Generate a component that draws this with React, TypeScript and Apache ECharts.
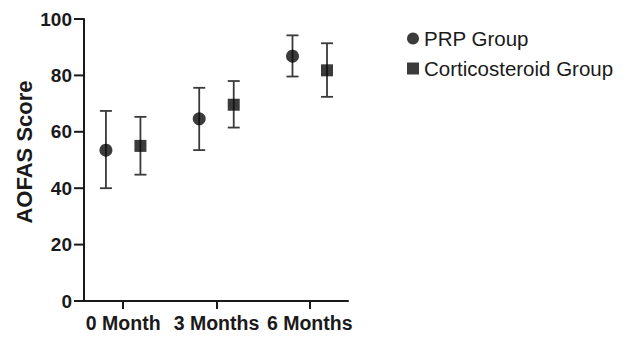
import React, { useEffect, useRef } from "react";
import * as echarts from "echarts";

const categories = ["0 Month", "3 Months", "6 Months"];
const prpMean = [53.5, 64.6, 86.8];
const prpLow = [40.0, 53.5, 79.6];
const prpHigh = [67.4, 75.6, 94.2];
const corMean = [55.0, 69.6, 81.8];
const corLow = [44.8, 61.5, 72.4];
const corHigh = [65.3, 78.0, 91.4];
const yTicks = [0, 20, 40, 60, 80, 100];

const OFFSET = 0.185;
const X_MIN = -0.42;
const X_MAX = 2.41;

export default function App() {
  const ref = useRef<HTMLDivElement>(null);
  useEffect(() => {
    if (!ref.current) return;
    const chart = echarts.init(ref.current, null, { renderer: "svg" });
    const font = "'Liberation Sans', Arial, Helvetica, sans-serif";
    const idx = categories.map((_, i) => i);

    const errRender = (params: any, api: any) => {
      const x = api.value(0);
      const lo = api.coord([x, api.value(1)]);
      const hi = api.coord([x, api.value(2)]);
      const half = 6;
      const style = { stroke: "#3a3a3a", lineWidth: 1.8 };
      return {
        type: "group",
        children: [
          { type: "line", shape: { x1: lo[0], y1: lo[1], x2: hi[0], y2: hi[1] }, style },
          { type: "line", shape: { x1: lo[0] - half, y1: lo[1], x2: lo[0] + half, y2: lo[1] }, style },
          { type: "line", shape: { x1: hi[0] - half, y1: hi[1], x2: hi[0] + half, y2: hi[1] }, style },
        ],
      };
    };

    const yTickRender = (params: any, api: any) => {
      const p = api.coord([api.value(0), api.value(1)]);
      return {
        type: "line",
        shape: { x1: p[0] - 10, y1: p[1], x2: p[0], y2: p[1] },
        style: { stroke: "#1a1a1a", lineWidth: 2 },
      };
    };

    chart.setOption({
      animation: false,
      grid: { left: 84, top: 19, right: 282, bottom: 39 },
      legend: {
        orient: "vertical",
        left: 402,
        top: 23,
        itemWidth: 12,
        itemHeight: 12,
        itemGap: 9,
        data: [
          { name: "PRP Group", icon: "circle" },
          { name: "Corticosteroid Group", icon: "rect" },
        ],
        textStyle: { fontFamily: font, fontSize: 20.5, color: "#1a1a1a" },
      },
      xAxis: {
        type: "value",
        min: X_MIN,
        max: X_MAX,
        splitLine: { show: false },
        axisLine: { show: true, onZero: false, lineStyle: { color: "#1a1a1a", width: 2 } },
        axisTick: {
          show: true,
          length: 8,
          customValues: idx,
          lineStyle: { color: "#1a1a1a", width: 2 },
        },
        axisLabel: {
          customValues: idx,
          formatter: (v: number) => categories[Math.round(v)] ?? "",
          fontFamily: font,
          fontWeight: "bold",
          fontSize: 19.5,
          color: "#1a1a1a",
          margin: 12,
        },
      },
      yAxis: {
        type: "value",
        min: 0,
        max: 100,
        interval: 20,
        name: "AOFAS Score",
        nameLocation: "middle",
        nameGap: 49,
        nameTextStyle: {
          fontFamily: font,
          fontWeight: "bold",
          fontSize: 22,
          color: "#1a1a1a",
          padding: [0, 0, 0, 16],
        },
        splitLine: { show: false },
        axisLine: { show: true, onZero: false, lineStyle: { color: "#1a1a1a", width: 2 } },
        axisTick: { show: false },
        axisLabel: {
          fontFamily: font,
          fontWeight: "bold",
          fontSize: 19,
          color: "#1a1a1a",
          margin: 12,
          customValues: yTicks,
        },
      },
      series: [
        {
          name: "y ticks",
          type: "custom",
          renderItem: yTickRender,
          clip: false,
          silent: true,
          z: 5,
          data: yTicks.map((v) => [X_MIN, v]),
          encode: { x: 0, y: 1 },
        },
        {
          name: "PRP err",
          type: "custom",
          renderItem: errRender,
          z: 1,
          data: idx.map((i) => [i - OFFSET, prpLow[i], prpHigh[i]]),
          encode: { x: 0, y: [1, 2] },
        },
        {
          name: "Cor err",
          type: "custom",
          renderItem: errRender,
          z: 1,
          data: idx.map((i) => [i + OFFSET, corLow[i], corHigh[i]]),
          encode: { x: 0, y: [1, 2] },
        },
        {
          name: "PRP Group",
          type: "scatter",
          symbol: "circle",
          symbolSize: 13,
          z: 3,
          itemStyle: { color: "#0a0a0a" },
          data: idx.map((i) => [i - OFFSET, prpMean[i]]),
        },
        {
          name: "Corticosteroid Group",
          type: "scatter",
          symbol: "rect",
          symbolSize: 12,
          z: 3,
          itemStyle: { color: "#0a0a0a" },
          data: idx.map((i) => [i + OFFSET, corMean[i]]),
        },
      ],
    });
    return () => chart.dispose();
  }, []);
  return <div ref={ref} style={{ width: 630, height: 340, margin: -8 }} />;
}
